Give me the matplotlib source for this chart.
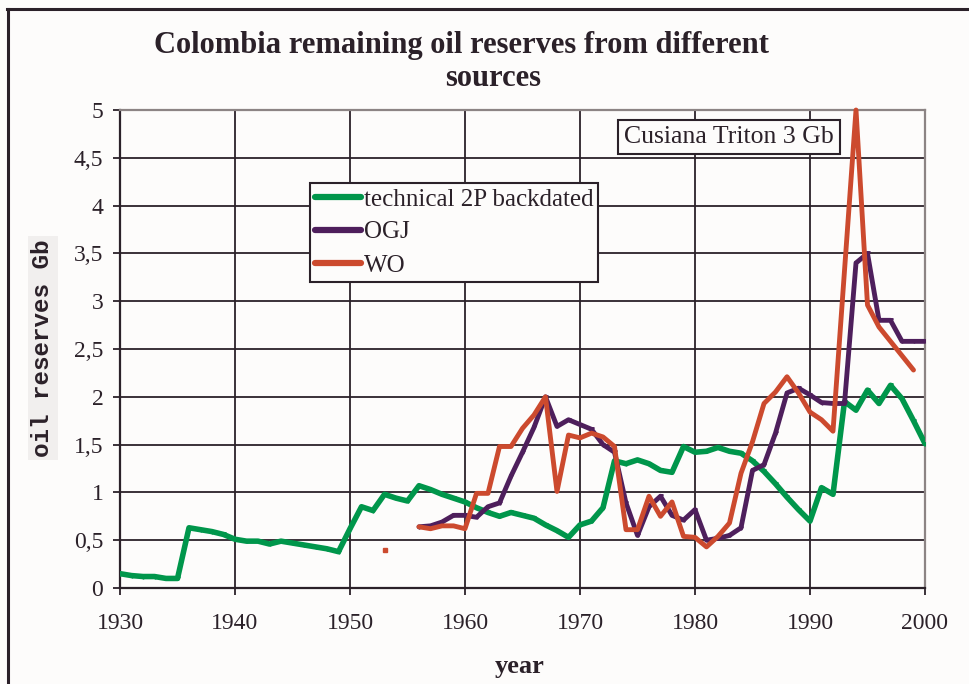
import matplotlib
matplotlib.use("Agg")
import matplotlib.pyplot as plt
from matplotlib.lines import Line2D
from matplotlib.ticker import FuncFormatter
import numpy as np

# ---------------- data ----------------
tech_years = list(range(1930, 2001))
tech_values = [0.15, 0.13, 0.12, 0.12, 0.10, 0.10, 0.63, 0.61, 0.59, 0.56,
               0.51, 0.49, 0.49, 0.46, 0.49, 0.47, 0.45, 0.43, 0.41, 0.38,
               0.62, 0.85, 0.81, 0.98, 0.94, 0.91, 1.07, 1.03, 0.98, 0.94,
               0.90, 0.84, 0.79, 0.75, 0.79, 0.76, 0.73, 0.66, 0.60, 0.53,
               0.66, 0.70, 0.84, 1.33, 1.30, 1.34, 1.30, 1.23, 1.21, 1.48,
               1.42, 1.43, 1.47, 1.43, 1.41, 1.33, 1.22, 1.09, 0.95, 0.82,
               0.70, 1.05, 0.98, 1.95, 1.86, 2.07, 1.93, 2.12, 1.98, 1.75,
               1.51]

ogj_years = list(range(1956, 2001))
ogj_values = [0.64, 0.65, 0.69, 0.76, 0.76, 0.74, 0.85, 0.89, 1.17, 1.42,
              1.68, 2.00, 1.69, 1.76, 1.71, 1.66, 1.50, 1.42, 0.89, 0.55,
              0.85, 0.96, 0.76, 0.71, 0.82, 0.50, 0.52, 0.55, 0.63, 1.23,
              1.29, 1.62, 2.04, 2.09, 2.02, 1.94, 1.93, 1.93, 3.40, 3.50,
              2.80, 2.80, 2.58, 2.58, 2.58]

wo_years = [1956, 1957, 1958, 1959, 1960, 1961, 1962, 1963, 1964, 1965,
            1966, 1967, 1968, 1969, 1970, 1971, 1972, 1973, 1974, 1975,
            1976, 1977, 1978, 1979, 1980, 1981, 1982, 1983, 1984, 1985,
            1986, 1987, 1988, 1989, 1990, 1991, 1992, 1994, 1995, 1996,
            1997, 1998, 1999]
wo_values = [0.64, 0.62, 0.65, 0.65, 0.62, 0.99, 0.99, 1.48, 1.48, 1.67,
             1.81, 2.00, 1.01, 1.60, 1.57, 1.62, 1.58, 1.48, 0.61, 0.61,
             0.96, 0.75, 0.90, 0.54, 0.53, 0.43, 0.54, 0.68, 1.20, 1.53,
             1.93, 2.05, 2.21, 2.04, 1.84, 1.76, 1.64, 5.00, 2.96, 2.73,
             2.58, 2.43, 2.28]
wo_single_year = [1953]
wo_single_value = [0.40]

x_ticks = [1930, 1940, 1950, 1960, 1970, 1980, 1990, 2000]
y_ticks = [0, 0.5, 1, 1.5, 2, 2.5, 3, 3.5, 4, 4.5, 5]

labels = ["technical 2P backdated", "OGJ", "WO"]
title_line1 = "Colombia remaining oil reserves from different"
title_line2 = "sources"
note = "Cusiana Triton 3 Gb"

# ---------------- style ----------------
W, H = 969, 684
serif = ["Liberation Serif", "DejaVu Serif"]
dark = "#2b2129"
green = "#00964b"
purple = "#4e1f5c"
red = "#cc4a2e"
bg = "#fdfcfb"

fig = plt.figure(figsize=(W / 100, H / 100), dpi=100, facecolor=bg)
ax = fig.add_axes([120 / W, (H - 588) / H, 805 / W, 478 / H], facecolor=bg)

ax.plot(tech_years, tech_values, color=green, lw=4.0, solid_capstyle="round",
        solid_joinstyle="round", marker="v", markersize=2.5, label=labels[0], zorder=3)
ax.plot(ogj_years, ogj_values, color=purple, lw=3.5, solid_capstyle="round",
        solid_joinstyle="round", marker="v", markersize=2.5, label=labels[1], zorder=4)
ax.plot(wo_years, wo_values, color=red, lw=3.5, solid_capstyle="round",
        solid_joinstyle="round", label=labels[2], zorder=5, clip_on=False)
ax.plot(wo_single_year, wo_single_value, color=red, marker="s", markersize=2.5,
        lw=0, zorder=5)

ax.set_xlim(1930, 2000)
ax.set_ylim(0, 5)
ax.set_xticks(x_ticks)
ax.set_yticks(y_ticks)
ax.yaxis.set_major_formatter(FuncFormatter(lambda v, p: (f"{v:g}").replace(".", ",")))
ax.grid(True, color=dark, lw=1.3, zorder=1)
ax.set_axisbelow(True)
ax.tick_params(direction="out", length=5, width=1.3, color=dark, labelsize=17,
               labelcolor=dark)
ax.tick_params(axis="x", pad=13)
ax.tick_params(axis="y", pad=7)
for lab in ax.get_xticklabels() + ax.get_yticklabels():
    lab.set_family(serif)
for s in ["left", "bottom"]:
    ax.spines[s].set_color(dark)
    ax.spines[s].set_linewidth(1.6)
for s in ["top", "right"]:
    ax.spines[s].set_color("#8c8484")
    ax.spines[s].set_linewidth(1.6)

leg = ax.legend(loc="upper left", bbox_to_anchor=((310 - 120) / 805, (588 - 183) / 478),
                frameon=True, fancybox=False, edgecolor=dark, facecolor=bg,
                framealpha=1, prop={"family": serif, "size": 18.0},
                handlelength=1.85, handletextpad=0.1, labelspacing=0.42,
                borderpad=0.2, borderaxespad=0)
leg.get_frame().set_linewidth(1.5)
for t in leg.get_texts():
    t.set_color(dark)
for h in leg.get_lines():
    h.set_linewidth(4.5)

fig.text(462 / W, 1 - 46 / H, title_line1, ha="center", va="center",
         family=serif, weight="bold", size=22, color=dark)
fig.text(493 / W, 1 - 78 / H, title_line2, ha="center", va="center",
         family=serif, weight="bold", size=22, color=dark)

fig.text(729 / W, 1 - 137 / H, note, ha="center", va="center", family=serif,
         size=18.5, color=dark,
         bbox=dict(boxstyle="square,pad=0.25", facecolor=bg, edgecolor=dark, lw=1.5))

fig.text(43 / W, 1 - 348 / H, "oil reserves Gb", rotation=90, ha="center",
         va="center", family=["Liberation Mono", "DejaVu Sans Mono"],
         weight="bold", size=17.5, color=dark,
         bbox=dict(boxstyle="square,pad=0.15", facecolor="#f1efee", edgecolor="none"))

fig.text(520 / W, 1 - 667 / H, "year", ha="center", va="center", family=serif,
         weight="bold", size=19, color=dark)

# outer frame
fig.add_artist(Line2D([7 / W, 1.0], [1 - 9 / H, 1 - 9 / H], color=dark, lw=2.2,
                      transform=fig.transFigure))
fig.add_artist(Line2D([8 / W, 8 / W], [0, 1 - 9 / H], color=dark, lw=2.2,
                      transform=fig.transFigure))

fig.savefig("out.png", dpi=100, facecolor=bg)
